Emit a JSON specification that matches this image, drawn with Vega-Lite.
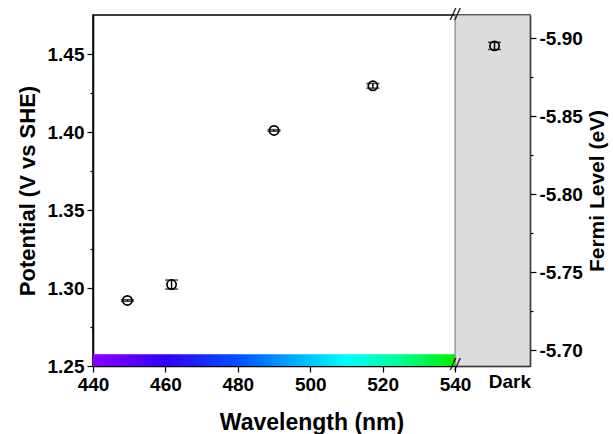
{
  "$schema": "https://vega.github.io/schema/vega-lite/v6.json",
  "width": 437,
  "height": 351,
  "autosize": {"type": "none"},
  "padding": {"left": 93, "top": 15, "right": 83, "bottom": 68},
  "background": "white",
  "config": {
    "view": {"stroke": "black", "strokeWidth": 1.5},
    "axis": {
      "grid": false,
      "domainColor": "black",
      "domainWidth": 1.5,
      "tickColor": "black",
      "tickWidth": 1.2,
      "labelFont": "Liberation Sans",
      "labelFontWeight": "bold",
      "labelFontSize": 19,
      "labelColor": "black",
      "titleFont": "Liberation Sans",
      "titleFontWeight": "bold",
      "titleFontSize": 21,
      "titleColor": "black"
    }
  },
  "datasets": {
    "pts": [
      {"wl": 449.5, "v": 1.292, "lo": 1.2915, "hi": 1.2925},
      {"wl": 461.7, "v": 1.3022, "lo": 1.2993, "hi": 1.3051},
      {"wl": 490.0, "v": 1.401, "lo": 1.4005, "hi": 1.4015},
      {"wl": 517.3, "v": 1.4296, "lo": 1.4281, "hi": 1.4311},
      {"wl": 550.9, "v": 1.4552, "lo": 1.4529, "hi": 1.4575}
    ],
    "one": [{}]
  },
  "layer": [
    {
      "layer": [
        {
          "data": {"name": "one"},
          "mark": {"type": "rect", "fill": "#dcdcdc", "stroke": "#707070", "strokeWidth": 1},
          "encoding": {
            "x": {"datum": 540, "type": "quantitative"},
            "x2": {"datum": 560.7},
            "y": {"datum": 1.25, "type": "quantitative"},
            "y2": {"datum": 1.475}
          }
        },
        {
          "data": {"name": "one"},
          "mark": {
            "type": "rect",
            "fill": {
              "gradient": "linear",
              "x1": 0, "x2": 1, "y1": 0, "y2": 0,
              "stops": [
                {"offset": 0, "color": "#8a00ff"},
                {"offset": 0.2, "color": "#3300f5"},
                {"offset": 0.4, "color": "#0050ff"},
                {"offset": 0.55, "color": "#00a8ff"},
                {"offset": 0.7, "color": "#00ffff"},
                {"offset": 0.85, "color": "#00ff90"},
                {"offset": 1, "color": "#00f000"}
              ]
            }
          },
          "encoding": {
            "x": {"datum": 440, "type": "quantitative"},
            "x2": {"datum": 540},
            "y": {"datum": 1.25, "type": "quantitative"},
            "y2": {"datum": 1.2575}
          }
        },
        {
          "data": {"name": "pts"},
          "mark": {"type": "rule", "color": "black", "strokeWidth": 1.5},
          "encoding": {
            "x": {"field": "wl", "type": "quantitative"},
            "y": {"field": "lo", "type": "quantitative"},
            "y2": {"field": "hi"}
          }
        },
        {
          "data": {"name": "pts"},
          "mark": {"type": "tick", "orient": "horizontal", "color": "black", "size": 13, "thickness": 1.5},
          "encoding": {
            "x": {"field": "wl", "type": "quantitative"},
            "y": {"field": "lo", "type": "quantitative"}
          }
        },
        {
          "data": {"name": "pts"},
          "mark": {"type": "tick", "orient": "horizontal", "color": "black", "size": 13, "thickness": 1.5},
          "encoding": {
            "x": {"field": "wl", "type": "quantitative"},
            "y": {"field": "hi", "type": "quantitative"}
          }
        },
        {
          "data": {"name": "pts"},
          "mark": {"type": "point", "shape": "circle", "filled": false, "color": "black", "strokeWidth": 1.7, "size": 85, "opacity": 1},
          "encoding": {
            "x": {
              "field": "wl", "type": "quantitative",
              "scale": {"domain": [440, 560.7], "nice": false, "zero": false},
              "axis": {
                "title": "Wavelength (nm)",
                "titleFontSize": 23,
                "values": [440, 450, 460, 470, 480, 490, 500, 510, 520, 530, 540, 550.9, 555],
                "labelExpr": "datum.value == 555 ? 'Dark' : (datum.value % 20 == 0 ? datum.label : '')",
                "tickSize": {"condition": {"test": "datum.value % 20 == 0", "value": 6}, "value": 3},
                "tickOpacity": {"condition": {"test": "datum.value == 555", "value": 0}, "value": 1},
                "labelPadding": 3,
                "labelFlush": false,
                "labelOverlap": false,
                "titlePadding": 17
              }
            },
            "y": {
              "field": "v", "type": "quantitative",
              "scale": {"domain": [1.25, 1.475], "nice": false, "zero": false},
              "axis": {
                "title": "Potential (V vs SHE)",
                "titleFontSize": 22,
                "values": [1.25, 1.275, 1.3, 1.325, 1.35, 1.375, 1.4, 1.425, 1.45],
                "labelExpr": "round(datum.value * 1000) % 50 == 0 ? format(datum.value, '.2f') : ''",
                "tickSize": {"condition": {"test": "round(datum.value * 1000) % 50 == 0", "value": 6}, "value": 3},
                "labelPadding": 3,
                "labelFlush": false,
                "labelOverlap": false,
                "titlePadding": 8
              }
            }
          }
        },
        {
          "data": {"name": "one"},
          "mark": {"type": "text", "text": "//", "font": "Liberation Sans", "fontSize": 16, "fontStyle": "italic", "color": "black", "align": "center", "baseline": "middle", "dy": -1},
          "encoding": {
            "x": {"datum": 540, "type": "quantitative"},
            "y": {"datum": 1.25, "type": "quantitative"}
          }
        },
        {
          "data": {"name": "one"},
          "mark": {"type": "text", "text": "//", "font": "Liberation Sans", "fontSize": 16, "fontStyle": "italic", "color": "black", "align": "center", "baseline": "middle"},
          "encoding": {
            "x": {"datum": 540, "type": "quantitative"},
            "y": {"datum": 1.475, "type": "quantitative"}
          }
        }
      ]
    },
    {
      "data": {"name": "one"},
      "mark": {"type": "point", "opacity": 0},
      "encoding": {
        "y": {
          "datum": -5.8, "type": "quantitative",
          "scale": {"domain": [-5.915, -5.69], "reverse": true, "nice": false, "zero": false},
          "axis": {
            "orient": "right",
            "title": "Fermi Level (eV)",
            "titleAngle": 270,
            "titleBaseline": "top",
            "values": [-5.9, -5.875, -5.85, -5.825, -5.8, -5.775, -5.75, -5.725, -5.7],
            "labelExpr": "round(abs(datum.value) * 1000) % 50 == 0 ? replace(format(datum.value, '.2f'), '\u2212', '-') : ''",
            "tickSize": {"condition": {"test": "round(abs(datum.value) * 1000) % 50 == 0", "value": 6}, "value": 3},
            "labelPadding": 3,
            "labelFlush": false,
            "labelOverlap": false,
            "titlePadding": 4
          }
        }
      }
    }
  ],
  "resolve": {"scale": {"y": "independent"}, "axis": {"y": "independent"}}
}
